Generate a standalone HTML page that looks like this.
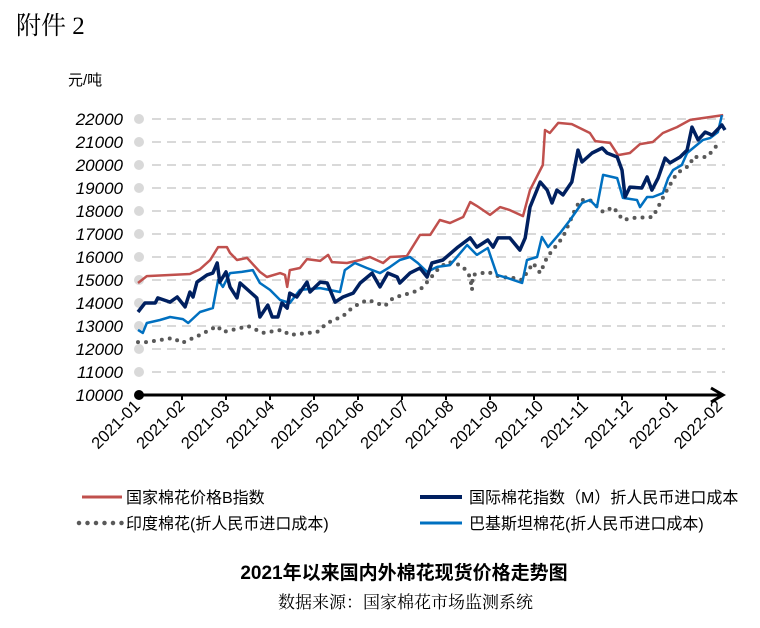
<!DOCTYPE html>
<html><head><meta charset="utf-8"><style>
body{margin:0;background:#fff;width:760px;height:623px;overflow:hidden;font-family:"Liberation Sans","Noto Sans CJK SC",sans-serif}
</style></head><body>
<svg width="760" height="623" viewBox="0 0 760 623" xmlns="http://www.w3.org/2000/svg">
<text x="16" y="34" font-size="25" font-family="Liberation Serif,Noto Serif CJK SC,serif">附件 2</text>
<text x="68" y="85" font-size="15" font-family="Liberation Sans,Noto Sans CJK SC,sans-serif">元/吨</text>
<g id="grid"></g><g id="series"></g><g id="axis"></g>
<g font-size="16" font-family="Liberation Sans,Noto Sans CJK SC,sans-serif">
<line x1="82" y1="497" x2="122" y2="497" stroke="#c0504d" stroke-width="3"/>
<text x="126" y="503">国家棉花价格B指数</text>
<line x1="420" y1="497" x2="462" y2="497" stroke="#002060" stroke-width="4"/>
<text x="469" y="503">国际棉花指数（M）折人民币进口成本</text>
<line x1="79" y1="523" x2="122" y2="523" stroke="#595959" stroke-width="4.5" stroke-dasharray="0 8.5" stroke-linecap="round"/>
<text x="126" y="529">印度棉花(折人民币进口成本)</text>
<line x1="420" y1="523" x2="462" y2="523" stroke="#0070c0" stroke-width="3"/>
<text x="469" y="529">巴基斯坦棉花(折人民币进口成本)</text>
</g>
<text x="404" y="579" text-anchor="middle" font-size="19" font-weight="bold" font-family="Liberation Sans,Noto Sans CJK SC,sans-serif">2021年以来国内外棉花现货价格走势图</text>
<text x="278" y="608" font-size="17" font-family="Liberation Serif,Noto Serif CJK SC,serif">数据来源：国家棉花市场监测系统</text>
</svg>
<script>
const yTicks=[10000,11000,12000,13000,14000,15000,16000,17000,18000,19000,20000,21000,22000];
const xLabels=["2021-01","2021-02","2021-03","2021-04","2021-05","2021-06","2021-07","2021-08","2021-09","2021-10","2021-11","2021-12","2022-01","2022-02"];
const redT=[0,.2,1.18,1.41,1.64,1.82,2.02,2.09,2.25,2.48,2.77,2.93,3.23,3.34,3.39,3.45,3.68,3.84,4.14,4.32,4.41,4.75,5.05,5.27,5.57,5.73,6.11,6.41,6.64,6.86,7.09,7.39,7.55,7.7,8,8.23,8.45,8.75,8.91,9.2,9.25,9.36,9.55,9.86,10.27,10.39,10.73,10.91,11.18,11.41,11.7,11.93,12.25,12.55,13.3];
const redV=[14870,15170,15260,15470,15870,16430,16430,16180,15870,15960,15350,15130,15300,15220,14700,15430,15520,15910,15830,16090,15780,15740,15870,16000,15740,16000,16040,16960,16960,17610,17480,17740,18390,18220,17830,18170,18040,17780,18910,20000,21520,21390,21830,21780,21390,21040,20960,20430,20520,20910,21000,21390,21650,21960,22170];
const navyT=[0,.16,.39,.45,.73,.89,1.07,1.18,1.25,1.34,1.57,1.7,1.8,1.86,2,2.09,2.25,2.32,2.55,2.7,2.77,2.95,3.05,3.18,3.27,3.39,3.45,3.61,3.84,3.91,4.14,4.3,4.48,4.66,4.89,5.05,5.32,5.5,5.68,5.89,5.95,6.18,6.41,6.57,6.68,6.93,7.27,7.55,7.7,7.95,8.07,8.18,8.45,8.68,8.8,8.91,9.14,9.3,9.41,9.52,9.66,9.86,10,10.09,10.32,10.55,10.66,10.89,11,11.07,11.18,11.45,11.57,11.68,11.82,11.98,12.09,12.32,12.48,12.59,12.73,12.89,13.05,13.27,13.34];
const navyV=[13610,14000,14000,14220,14040,14260,13830,14480,14260,14910,15220,15300,15740,14910,15350,14700,14220,14870,14480,14220,13390,13910,13390,13390,14000,13780,14430,14260,14910,14480,14910,14870,14040,14260,14430,14870,15300,14700,15300,15130,14870,15300,15520,15130,15740,15870,16430,16830,16430,16740,16430,16830,16830,16300,16830,18170,19260,18910,18350,18910,18700,19260,20650,20130,20520,20740,20520,20350,19780,18610,19040,19000,19480,18910,19430,20300,20090,20350,20650,21650,21090,21430,21300,21740,21520];
const blueT=[0,.11,.2,.5,.73,1.02,1.14,1.41,1.7,1.82,1.93,2.09,2.36,2.61,2.77,3,3.23,3.45,3.68,4.14,4.59,4.7,4.93,5.2,5.5,5.73,5.95,6.18,6.36,6.57,6.8,7.09,7.48,7.7,7.95,8.16,8.39,8.73,8.84,9.07,9.18,9.32,9.59,9.82,10.09,10.27,10.43,10.57,10.89,11.02,11.34,11.41,11.57,11.7,11.93,12.05,12.16,12.36,12.48,12.7,12.84,13,13.18,13.27];
const blueV=[12830,12700,13130,13260,13390,13300,13130,13610,13780,15000,14700,15300,15350,15430,14870,14570,14130,14000,14570,14650,14480,15430,15740,15520,15300,15570,15870,16000,15740,15350,15570,15650,16520,16090,16390,15220,15090,14870,15870,16000,16870,16430,17040,17610,18350,18480,18170,19570,19430,18570,18480,18170,18610,18610,18780,19430,19780,20000,20520,20870,21090,21170,21430,22170];
const indiaT=[0,.2,.8,1,1.41,1.8,1.93,2.32,2.5,2.84,3.27,3.45,4.07,4.3,4.66,4.86,5.05,5.23,5.61,5.8,6.18,6.41,6.57,6.8,7.02,7.2,7.39,7.55,7.59,7.61,7.95,8.23,8.52,8.73,8.98,9.14,9.3,9.66,9.93,10.05,10.27,10.57,10.8,11.02,11.25,11.7,11.82,12.02,12.25,12.55,12.61,12.93,13.07,13.23];
const indiaV=[12300,12300,12480,12260,12610,13000,12740,12910,13000,12700,12830,12610,12740,13130,13430,13780,14000,14130,13870,14220,14430,14570,14910,15430,15780,15740,15570,15130,14570,15220,15350,15130,15090,15000,15740,15300,16000,16870,18040,18480,18480,17960,18170,17610,17700,17740,18170,18910,19650,20000,20350,20350,20650,21040];
const NS='http://www.w3.org/2000/svg';
const X0=138,PXM=44,Y0=395,PXV=23/1000;
function xs(t){return X0+t*PXM}
function ys(v){return Y0-(v-10000)*PXV}
function mk(tag,attrs,parent){const e=document.createElementNS(NS,tag);for(const k in attrs)e.setAttribute(k,attrs[k]);parent.appendChild(e);return e}
const grid=document.getElementById('grid'),axis=document.getElementById('axis'),ser=document.getElementById('series');
yTicks.forEach(v=>{
  const y=ys(v);
  if(v>10000){
    const l=mk('line',{x1:152,y1:y,x2:725,y2:y,stroke:'#d9d9d9','stroke-width':2,'stroke-dasharray':'9 6'},grid);
    
    
    const c=mk('circle',{cx:139,cy:y,r:5,fill:'#d9d9d9'},grid);
    
    
  }
  const t=mk('text',{x:123,y:y+6,'text-anchor':'end','font-size':17,'font-style':'italic','font-family':'Liberation Sans,sans-serif'},axis);
  t.textContent=v;
  
  
});
const ax=mk('line',{x1:138,y1:Y0,x2:723,y2:Y0,stroke:'#000','stroke-width':3},axis);


const ar=mk('polyline',{points:'711,388 723,395 711,402',fill:'none',stroke:'#000','stroke-width':3},axis);


const od=mk('circle',{cx:139,cy:Y0,r:5,fill:'#000'},axis);


for(let m=1;m<=12;m++){
  const tk=mk('line',{x1:xs(m),y1:Y0,x2:xs(m),y2:Y0+5,stroke:'#000','stroke-width':2},axis);
  
  
}
xLabels.forEach((s,i)=>{
  const x=141+i*44.8,y=407;
  const t=mk('text',{x:x,y:y,'text-anchor':'end','font-size':16.5,'font-family':'Liberation Sans,sans-serif',transform:`rotate(-45 ${x} ${y})`},axis);
  t.textContent=s;
  
  
});
function line(T,V,attrs,name){
  const p=T.map((t,i)=>xs(t).toFixed(1)+','+ys(V[i]).toFixed(1)).join(' ');
  const e=mk('polyline',Object.assign({points:p,fill:'none','stroke-linejoin':'round'},attrs),ser);
  
  
}
line(indiaT,indiaV,{stroke:'#595959','stroke-width':4,'stroke-dasharray':'0 8','stroke-linecap':'round'},'india-cotton-line');
line(redT,redV,{stroke:'#c0504d','stroke-width':2.5},'b-index-line');
line(blueT,blueV,{stroke:'#0070c0','stroke-width':2.5},'pakistan-cotton-line');
line(navyT,navyV,{stroke:'#002060','stroke-width':3.5},'m-index-line');
</script>
</body></html>
